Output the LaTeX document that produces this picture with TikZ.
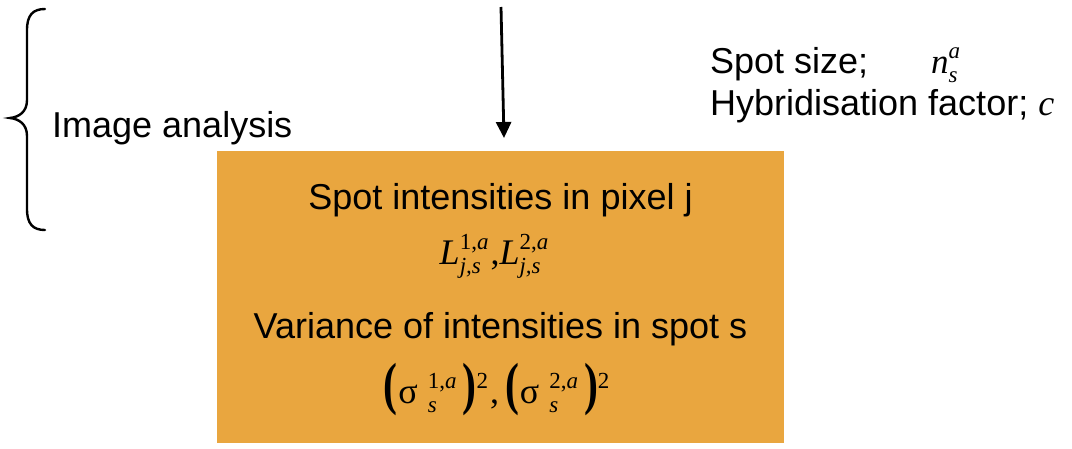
\documentclass[tikz,border=0pt]{standalone}
\usepackage{graphicx}
\usepackage{fontspec}
\setmainfont{Liberation Sans}
\newfontfamily\tms{Liberation Serif}
\usetikzlibrary{arrows.meta}
\definecolor{boxorange}{HTML}{E9A63F}
% script pair: superscript #1 raised, subscript #2 lowered, left aligned
\newcommand\scr[2]{{\fontsize{23}{23}\selectfont\tms
  \setbox0\hbox{#1}\setbox2\hbox{#2}%
  \rlap{\raisebox{15pt}{\copy0}}\raisebox{-9pt}{\copy2}%
  \ifdim\wd0>\wd2 \kern\dimexpr\wd0-\wd2\relax\fi}}
\newcommand\supr[1]{{\fontsize{23}{23}\selectfont\tms\raisebox{15pt}{#1}}}
\newcommand\bigparen[1]{\scalebox{0.72}[1]{\fontsize{58}{58}\selectfont\tms\bfseries #1}}
\tikzset{
  outtxt/.style={inner sep=0pt, anchor=base west, font=\fontsize{36}{40}\selectfont},
  boxtxt/.style={inner sep=0pt, anchor=base, font=\fontsize{36}{40}\selectfont},
  mathtxt/.style={inner sep=0pt, anchor=base, font=\fontsize{36}{40}\selectfont\tms},
}
\begin{document}
\begin{tikzpicture}[x=1pt,y=-1pt]
\useasboundingbox (0,0) rectangle (1072,448);
% orange box
\fill[boxorange] (217,151) rectangle (784,443);
\node[inner sep=0pt, minimum width=567pt, minimum height=292pt] (box) at (500.5,297) {};
% brace
\draw[line width=2.4pt, line cap=round] (45,9) .. controls (33,9) and (27,15) .. (27,30) -- (27,100)
  .. controls (27,112) and (19,117) .. (10,118) .. controls (19,119) and (27,124) .. (27,136)
  -- (27,209) .. controls (27,224) and (33,230) .. (45,230);
% arrow
\coordinate (astart) at (501,7);
\coordinate (aend) at (504,138);
\draw[line width=2.8pt, -{Triangle[length=16pt,width=15pt]}] (astart) -- (aend);
% outside texts
\node[outtxt] (img) at (52,137) {Image analysis};
\node[outtxt] (spot) at (710,73) {Spot size;};
\node[inner sep=0pt, anchor=base west, font=\fontsize{35}{40}\selectfont\tms] (ns) at (931,73) {\textit{n}\scr{\textit{a}}{\textit{s}}};
\node[outtxt] (hyb) at (710,115) {Hybridisation factor; {\tms\itshape c}};
% box texts
\node[boxtxt] (t1) at (500.5,209) {Spot intensities in pixel j};
\node[mathtxt] (t2) at (494,264) {\textit{L}\scr{1,\textit{a}}{\textit{j,s}}\kern2pt,\textit{L}\scr{2,\textit{a}}{\textit{j,s}}};
\node[boxtxt] (t3) at (500.5,338.5) {Variance of intensities in spot s};
\node[mathtxt] (t4) at (496.5,403) {\bigparen{(}\kern1pt σ\kern10pt\scr{1,\textit{a}}{\textit{s}}\kern6pt\bigparen{)}\supr{2}\kern2pt,\kern6pt\bigparen{(}\kern1pt σ\kern10pt\scr{2,\textit{a}}{\textit{s}}\kern6pt\bigparen{)}\supr{2}};
\end{tikzpicture}
\end{document}
